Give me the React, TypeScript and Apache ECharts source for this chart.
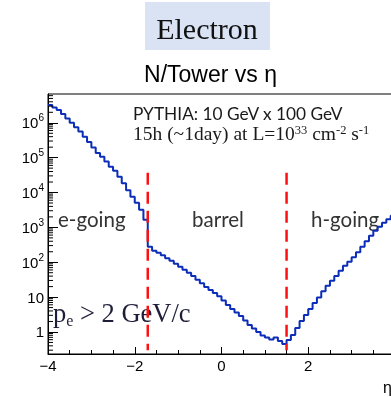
import { useEffect, useRef } from 'react';
import * as echarts from 'echarts';

// eta binning of the histogram
const etaStart = -4;
const binWidth = 0.1;
// N/Tower per eta bin (80 bins, -4 .. 4)
const counts = [
  3.23e6, 2.73e6, 2.32e6, 1.78e6, 1.32e6, 1.01e6, 7.5e5, 5.6e5, 4.0e5, 2.8e5,
  1.94e5, 1.35e5, 1.07e5, 7.7e4, 5.5e4, 4.2e4, 2.84e4, 1.85e4, 1.16e4, 7570,
  5090, 3200, 1650, 277, 213, 186, 158, 129, 110, 90,
  73.8, 60.5, 49.6, 40.6, 31.2, 24.8, 19.6, 16.1, 13.2, 10.5,
  8.04, 5.97, 4.58, 3.63, 2.88, 2.14, 1.59, 1.26, 1.0, 0.79,
  0.695, 0.608, 0.695, 0.551, 0.452, 0.589, 0.82, 1.3, 2.07, 3.08,
  4.58, 6.81, 9.8, 14.6, 21.0, 29.2, 40.6, 56.6, 78.8, 103,
  138, 192, 277, 399, 574, 799, 1040, 1360, 1710, 2150,
];
// region boundaries (red dashed lines)
const boundaries = [-1.7, 1.5];
const boundaryRange = [3.7e4, 0.3];
// axis ranges
const xRange = [-4, 4];
const yRange = [0.233, 6.7e6];
const minorDecades = [-1, 0, 1, 2, 3, 4, 5, 6];
const minorMultipliers = [2, 3, 4, 5, 6, 7, 8, 9];

const SERIF = '"Liberation Serif", "Times New Roman", serif';
const SANS = '"Liberation Sans", Arial, sans-serif';
const CAL = 'Lato, "Open Sans", sans-serif';

export default function App() {
  const ref = useRef<HTMLDivElement>(null);
  useEffect(() => {
    if (!ref.current) return;
    const chart = echarts.init(ref.current, undefined, { renderer: 'svg' });

    const histData: number[][] = counts.map((v, i) => [
      Math.round((etaStart + binWidth * i) * 10) / 10,
      v,
    ]);
    histData.push([Math.round((etaStart + binWidth * counts.length) * 10) / 10, counts[counts.length - 1]]);

    const minorTicks: number[][] = [];
    minorDecades.forEach((d) =>
      minorMultipliers.forEach((k) => {
        const v = k * Math.pow(10, d);
        if (v > yRange[0] && v < yRange[1]) minorTicks.push([xRange[0], v]);
      })
    );

    const option: any = {
      animation: false,
      grid: {
        left: 48,
        top: 94,
        right: -4,
        bottom: 43,
        show: true,
        borderColor: '#000',
        borderWidth: 1,
        backgroundColor: 'transparent',
        containLabel: false,
        outerBoundsMode: 'none',
      },
      xAxis: {
        type: 'value',
        min: xRange[0],
        max: xRange[1],
        interval: 2,
        axisLine: { show: true, onZero: false, lineStyle: { color: '#000', width: 1 } },
        axisTick: { show: true, inside: true, length: 7, lineStyle: { color: '#000' } },
        minorTick: { show: true, splitNumber: 4, length: 4, lineStyle: { color: '#000' } },
        splitLine: { show: false },
        minorSplitLine: { show: false },
        axisLabel: {
          margin: 4,
          color: '#000',
          fontFamily: SANS,
          fontSize: 15,
          showMaxLabel: false,
          formatter: (v: number) => String(v).replace('-', '\u2212'),
        },
      },
      yAxis: {
        type: 'log',
        logBase: 10,
        min: yRange[0],
        max: yRange[1],
        axisLine: { show: true, onZero: false, lineStyle: { color: '#000', width: 1 } },
        axisTick: { show: true, inside: true, length: 10, lineStyle: { color: '#000' } },
        splitLine: { show: false },
        axisLabel: {
          margin: 4,
          color: '#000',
          fontFamily: SANS,
          fontSize: 15,
          showMinLabel: false,
          showMaxLabel: false,
          formatter: (v: number) => {
            const l = Math.log10(v);
            const n = Math.round(l);
            if (Math.abs(l - n) > 1e-6) return '';
            if (n === 0) return '1';
            if (n === 1) return '10';
            return '{b|10}{s|' + n + '}';
          },
          rich: {
            b: { fontFamily: SANS, fontSize: 15, lineHeight: 20, color: '#000' },
            s: { fontFamily: SANS, fontSize: 10, lineHeight: 8, verticalAlign: 'top', color: '#000' },
          },
        },
      },
      series: [
        {
          type: 'line',
          data: histData,
          step: 'end',
          symbol: 'none',
          lineStyle: { color: '#0b2db8', width: 2 },
          z: 3,
        },
        ...boundaries.map((b) => ({
          type: 'line',
          data: [
            [b, boundaryRange[0]],
            [b, boundaryRange[1]],
          ],
          symbol: 'none',
          lineStyle: { color: '#ff1010', width: 2.5, type: [12, 7] },
          z: 4,
        })),
        {
          type: 'custom',
          data: minorTicks,
          encode: { x: 0, y: 1 },
          clip: false,
          silent: true,
          renderItem: (_p: any, api: any) => {
            const c = api.coord([api.value(0), api.value(1)]);
            return {
              type: 'line',
              shape: { x1: c[0], y1: c[1], x2: c[0] + 5, y2: c[1] },
              style: { stroke: '#000', lineWidth: 1 },
            };
          },
          z: 5,
        },
      ],
      graphic: [
        { type: 'rect', shape: { x: 145, y: 2, width: 125, height: 48 }, style: { fill: '#dae3f3' } },
        {
          type: 'text',
          x: 207,
          y: 28.5,
          style: { text: 'Electron', fontFamily: SERIF, fontSize: 30, fill: '#111', align: 'center', verticalAlign: 'middle' },
        },
        {
          type: 'text',
          x: 210.5,
          y: 74,
          style: { text: 'N/Tower vs \u03b7', fontFamily: SANS, fontSize: 23, fill: '#000', align: 'center', verticalAlign: 'middle' },
        },
        {
          type: 'text',
          x: 133,
          y: 113,
          style: { text: 'PYTHIA: 10 GeV x 100 GeV', fontFamily: CAL, fontSize: 17.3, fill: '#1a1a1a', align: 'left', verticalAlign: 'middle' },
        },
        {
          type: 'text',
          x: 133,
          y: 133,
          style: {
            text: '15h (~1day) at L=10{sup|33} cm{sup|-2} s{sup|-1}',
            fontFamily: SERIF,
            fontSize: 19.5,
            lineHeight: 20,
            fill: '#1a1a1a',
            align: 'left',
            verticalAlign: 'middle',
            rich: {
              sup: { fontFamily: SERIF, fontSize: 12.5, lineHeight: 9, verticalAlign: 'top', fill: '#1a1a1a' },
            },
          },
        },
        {
          type: 'text',
          x: 58,
          y: 219,
          style: { text: 'e-going', fontFamily: CAL, fontSize: 20.5, fill: '#333', align: 'left', verticalAlign: 'middle' },
        },
        {
          type: 'text',
          x: 192,
          y: 219,
          style: { text: 'barrel', fontFamily: CAL, fontSize: 20.5, fill: '#333', align: 'left', verticalAlign: 'middle' },
        },
        {
          type: 'text',
          x: 311,
          y: 219,
          style: { text: 'h-going', fontFamily: CAL, fontSize: 20.5, fill: '#333', align: 'left', verticalAlign: 'middle' },
        },
        {
          type: 'text',
          x: 53,
          y: 313,
          style: {
            text: 'p{sub|e} > 2 GeV/c',
            fontFamily: SERIF,
            fontSize: 26.5,
            lineHeight: 30,
            fill: '#1e1e3a',
            align: 'left',
            verticalAlign: 'middle',
            rich: {
              sub: { fontFamily: SERIF, fontSize: 16, lineHeight: 14, verticalAlign: 'bottom', fill: '#1e1e3a' },
            },
          },
        },
        {
          type: 'text',
          x: 383,
          y: 387,
          style: { text: '\u03b7', fontFamily: SANS, fontSize: 16, fill: '#000', align: 'left', verticalAlign: 'middle' },
        },
      ],
    };
    chart.setOption(option);
    return () => chart.dispose();
  }, []);
  return <div ref={ref} style={{ position: 'fixed', left: 0, top: 0, width: 391, height: 397 }} />;
}
